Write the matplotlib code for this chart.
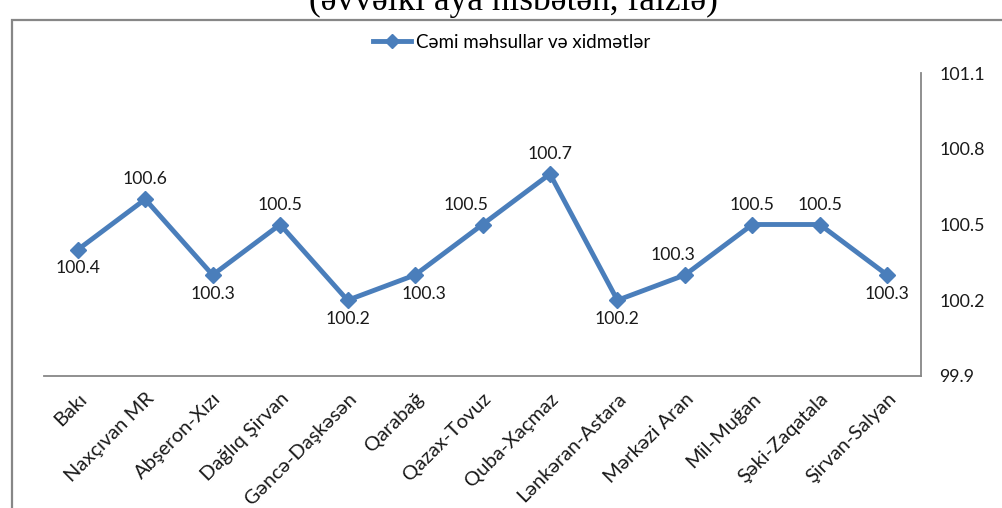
import matplotlib
matplotlib.use("Agg")
from matplotlib import pyplot as plt
from matplotlib.patches import Rectangle

regions = ["Bakı", "Naxçıvan MR", "Abşeron-Xızı", "Dağlıq Şirvan", "Gəncə-Daşkəsən",
           "Qarabağ", "Qazax-Tovuz", "Quba-Xaçmaz", "Lənkəran-Astara", "Mərkəzi Aran",
           "Mil-Muğan", "Şəki-Zaqatala", "Şirvan-Salyan"]
values = [100.4, 100.6, 100.3, 100.5, 100.2, 100.3, 100.5, 100.7, 100.2, 100.3,
          100.5, 100.5, 100.3]
# label placement: (dx px, dy px) relative to the point
label_offsets = [(0, -18), (0, 20), (0, -19), (0, 20), (0, -19), (9, -19), (-17, 20),
                 (0, 20), (0, -19), (-12, 20), (0, 20), (0, 20), (0, -19)]
y_ticks = [99.9, 100.2, 100.5, 100.8, 101.1]
series_name = "Cəmi məhsullar və xidmətlər"
title = "(əvvəlki aya nisbətən, faizlə)"

plt.rcParams['font.family'] = ['Lato', 'DejaVu Sans']
blue = '#4A7EBB'
txt = '#1a1a1a'

fig = plt.figure(figsize=(10.02, 5.08), dpi=100)
W, H = 1002, 508

# outer chart frame, cut at the right and bottom as in the source
fig.add_artist(Rectangle((12 / W, -0.1), 1.2, 1 - 20 / H + 0.1, transform=fig.transFigure,
                         fill=False, edgecolor='#878787', linewidth=1.6))
# title sits mostly above the crop, as in the source
fig.text(0.512, 1 - 10 / H, title, ha='center', va='baseline', fontsize=25.5,
         family='Liberation Serif')

ax = fig.add_axes([44 / W, 1 - 376 / H, (921 - 44) / W, (376 - 73) / H])
x = list(range(len(regions)))
ax.plot(x, values, color=blue, linewidth=3.5, marker='D', markersize=8.5,
        label=series_name)

for xi, v, (dx, dy) in zip(x, values, label_offsets):
    ax.annotate(f"{v:.1f}", (xi, v), xytext=(dx * 0.72, dy * 0.72), textcoords='offset points',
                ha='center', va='center', fontsize=12.7, color=txt)

ax.set_xlim(-0.5, len(regions) - 0.5)
ax.set_ylim(y_ticks[0], y_ticks[-1])
ax.set_yticks(y_ticks)
ax.set_yticklabels([f"{t:.1f}" for t in y_ticks])
ax.yaxis.tick_right()
ax.tick_params(axis='y', length=0, pad=13, labelsize=12.8, labelcolor=txt)
ax.set_xticks(x)
ax.set_xticklabels(regions, rotation=45, ha='right', rotation_mode='anchor', fontsize=14.5,
                   color=txt)
ax.tick_params(axis='x', length=0, pad=10)
for s in ['top', 'left']:
    ax.spines[s].set_visible(False)
for s in ['bottom', 'right']:
    ax.spines[s].set_color('#878787')
    ax.spines[s].set_linewidth(1.3)

ax.legend(loc='center', bbox_to_anchor=(512 / W, 1 - 42 / H), bbox_transform=fig.transFigure,
          frameon=False, fontsize=13.5, handlelength=2.0, handletextpad=0.3,
          markerscale=0.85)

fig.savefig('out.png', dpi=100)
